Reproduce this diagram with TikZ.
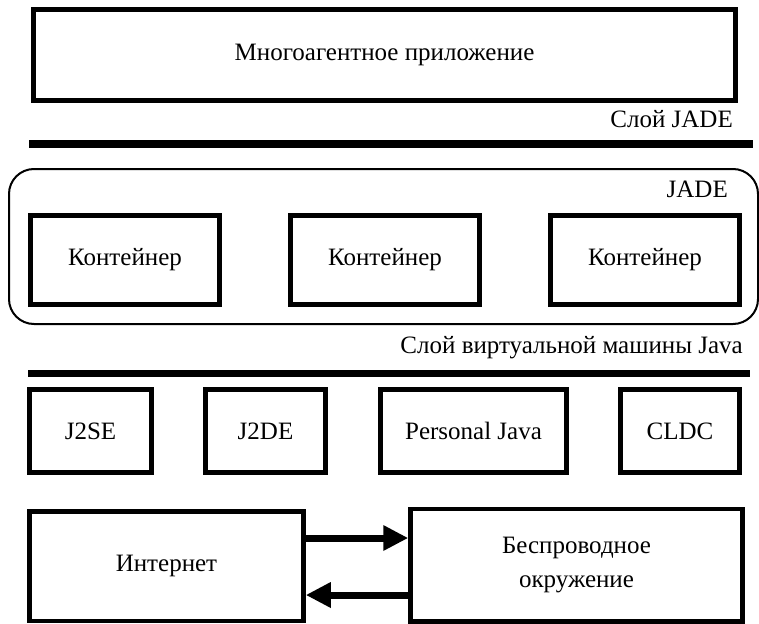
\documentclass[tikz,border=0pt]{standalone}
\usepackage{fontspec}
\setmainfont{Liberation Serif}
\usetikzlibrary{arrows.meta,positioning}

\tikzset{
    blok/.style={draw, line width=4.5pt, align=center, inner sep=0pt},
    strelka/.style={line width=7pt, -{Triangle[length=25pt,width=24pt]}},
    sloj/.style={anchor=base east, inner sep=0pt},
}

\begin{document}
\begin{tikzpicture}[x=1pt, y=-1pt, font=\fontsize{25}{30}\selectfont]
\useasboundingbox (0,0) rectangle (759,623);

\node[blok, minimum width=702, minimum height=91] (app) at (384.5,55) {Многоагентное приложение};
\node[sloj] (sjade) at (733,128) {Слой JADE};
\draw[line width=8pt] (29,144) -- (753,144);

\node[draw, line width=2pt, rounded corners=25pt, minimum width=749, minimum height=155] (jade) at (383.5,246.5) {};
\node[sloj] (tjade) at (728,197) {JADE};
\foreach \i in {0,...,2}{
    \node[blok, line width=5pt, minimum width=189, minimum height=89] (kont\i) at ({125+260*\i},260) {Контейнер};
}

\node[sloj] (sjava) at (743,353) {Слой виртуальной машины Java};
\draw[line width=7pt] (28,373) -- (750,373);

\node[blok, minimum width=122, minimum height=83] (j2se) at (90.5,431) {J2SE};
\node[blok, minimum width=120, minimum height=83] (j2de) at (265.5,431) {J2DE};
\node[blok, minimum width=186, minimum height=83] (pjava) at (473.5,431) {Personal Java};
\node[blok, minimum width=119, minimum height=83] (cldc) at (680,431) {CLDC};

\node[blok, minimum width=274, minimum height=109.5] (inet) at (166.5,566) {Интернет};
\node[blok, minimum width=332, minimum height=112.5] (wire) at (576.5,565) {Беспроводное\\[4pt]окружение};

\draw[strelka] ([yshift=28pt]inet.east) -- ([yshift=28pt]inet.east -| wire.west);
\draw[strelka] ([yshift=-30pt]wire.west) -- ([yshift=-30pt]wire.west -| inet.east);

\end{tikzpicture}
\end{document}
